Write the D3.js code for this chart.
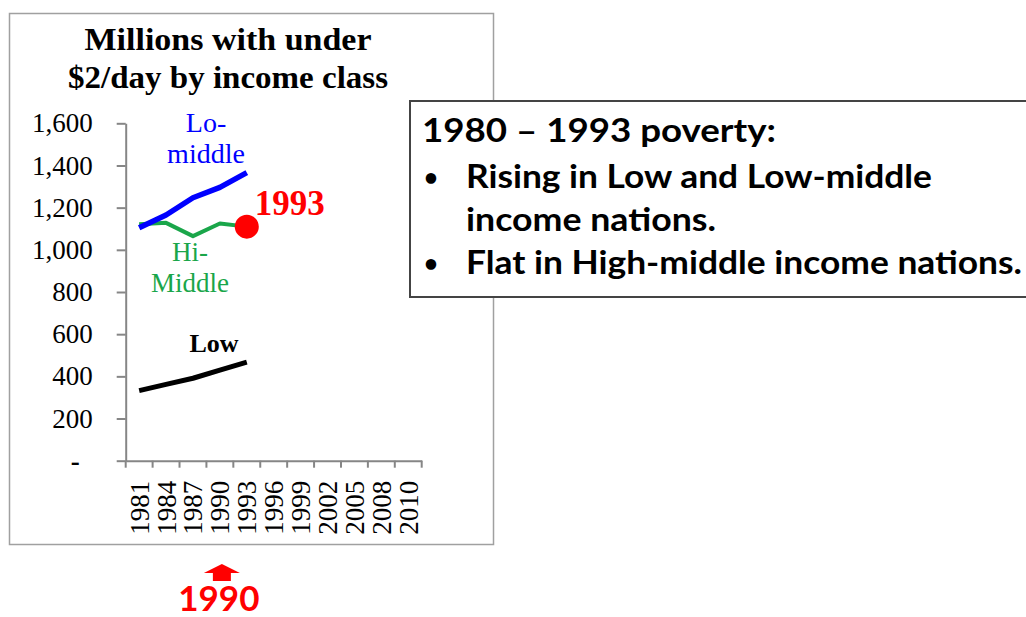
<!DOCTYPE html>
<html>
<head>
<meta charset="utf-8">
<script src="https://cdn.jsdelivr.net/npm/d3@7"></script>
<style>
  body { margin: 0; background: #fff; }
  svg { display: block; }
</style>
</head>
<body>
<div id="chart"></div>
<script>
const width = 1026;
const height = 617;

// data
const years = ["1981", "1984", "1987", "1990", "1993", "1996", "1999", "2002", "2005", "2008", "2010"];
const loMiddle = [1105, 1165, 1247, 1296, 1366];
const hiMiddle = [1121, 1128, 1065, 1125, 1110];
const low = [332, 362, 391, 430, 467];
const yTicks = [0, 200, 400, 600, 800, 1000, 1200, 1400, 1600];
const titleLines = ["Millions with under", "$2/day by income class"];
const noteHead = "1980 \u2013 1993 poverty:";
const noteBullets = [
  ["Rising in Low and Low-middle", "income nations."],
  ["Flat in High-middle income nations."]
];
const markYear = "1993";
const arrowYear = "1990";

const serif = "'Liberation Serif', 'Times New Roman', serif";
const sans = "Lato, 'Open Sans', sans-serif";

const svg = d3
  .select("#chart")
  .append("svg")
  .attr("width", width)
  .attr("height", height);

svg.append("rect").attr("width", width).attr("height", height).attr("fill", "#fff");

// chart frame
svg
  .append("rect")
  .attr("x", 9.5)
  .attr("y", 13.5)
  .attr("width", 484)
  .attr("height", 531)
  .attr("fill", "#fff")
  .attr("stroke", "#a0a0a0")
  .attr("stroke-width", 1.5);

// title
svg
  .append("g")
  .selectAll("text")
  .data(titleLines)
  .enter()
  .append("text")
  .attr("x", 228)
  .attr("y", (d, i) => 50 + i * 38)
  .attr("text-anchor", "middle")
  .attr("font-family", serif)
  .attr("font-weight", "bold")
  .attr("font-size", 32)
  .attr("textLength", (d, i) => (i === 0 ? 287 : 320))
  .attr("lengthAdjust", "spacingAndGlyphs")
  .text((d) => d);

//scales
const xScale = d3.scaleBand().domain(years).range([125.7, 421.7]);
const yScale = d3.scaleLinear().domain([0, 1600]).range([460.7, 123.3]);
const cx = (yr) => xScale(yr) + xScale.bandwidth() / 2;

const axisColor = "#868686";

// y axis
const yAxis = d3
  .axisLeft(yScale)
  .tickValues(yTicks)
  .tickSize(9)
  .tickSizeOuter(0)
  .tickPadding(24)
  .tickFormat((d) => (d === 0 ? "-" : d3.format(",")(d)));

const gy = svg
  .append("g")
  .attr("transform", "translate(125.7,0)")
  .call(yAxis);
gy.select(".domain").attr("stroke", axisColor).attr("stroke-width", 2);
gy.selectAll(".tick line").attr("stroke", axisColor).attr("stroke-width", 2);
gy.selectAll(".tick text")
  .attr("font-family", serif)
  .attr("font-size", 27)
  .attr("fill", "#000");
gy.selectAll(".tick")
  .filter((d) => d === 0)
  .select("text")
  .attr("x", -46)
  .attr("font-weight", "bold");

// x axis: labels centred in each band, ticks on band edges
const xAxis = d3.axisBottom(xScale).tickSize(0).tickSizeOuter(0);
const gx = svg
  .append("g")
  .attr("transform", "translate(0,460.7)")
  .call(xAxis);
gx.select(".domain").attr("stroke", axisColor).attr("stroke-width", 2);
gx.selectAll(".tick text")
  .attr("font-family", serif)
  .attr("font-size", 27)
  .attr("fill", "#000")
  .attr("text-anchor", "end")
  .attr("transform", "rotate(-90)")
  .attr("x", -20)
  .attr("y", 0)
  .attr("dy", "0.35em");

const edges = years.map((d) => xScale(d)).concat([xScale.range()[1]]);
gx.selectAll(".edge")
  .data(edges)
  .enter()
  .append("line")
  .attr("class", "edge")
  .attr("x1", (d) => d)
  .attr("x2", (d) => d)
  .attr("y1", 0)
  .attr("y2", 7)
  .attr("stroke", axisColor)
  .attr("stroke-width", 2);

// lines
const line = d3
  .line()
  .x((d, i) => cx(years[i]))
  .y((d) => yScale(d));

const series = [
  { values: hiMiddle, color: "#1aa64a", w: 4 },
  { values: loMiddle, color: "#0000ff", w: 5.5 },
  { values: low, color: "#000000", w: 5 }
];

svg
  .append("g")
  .selectAll("path")
  .data(series)
  .enter()
  .append("path")
  .attr("d", (d) => line(d.values))
  .attr("fill", "none")
  .attr("stroke", (d) => d.color)
  .attr("stroke-width", (d) => d.w)
  .attr("stroke-linejoin", "round");

// series labels
const seriesLabels = [
  { lines: ["Lo-", "middle"], x: 206, y: 132, color: "#0000ff", bold: false, size: 28 },
  { lines: ["Hi-", "Middle"], x: 190, y: 261, color: "#1aa64a", bold: false, size: 27 },
  { lines: ["Low"], x: 214, y: 352, color: "#000000", bold: true, size: 26 }
];
seriesLabels.forEach((s) => {
  svg
    .append("g")
    .selectAll("text")
    .data(s.lines)
    .enter()
    .append("text")
    .attr("x", s.x)
    .attr("y", (d, i) => s.y + i * 31)
    .attr("text-anchor", "middle")
    .attr("font-family", serif)
    .attr("font-weight", s.bold ? "bold" : "normal")
    .attr("font-size", s.size)
    .attr("fill", s.color)
    .text((d) => d);
});

// 1993 marker
const mi = years.indexOf(markYear);
svg
  .append("circle")
  .attr("cx", cx(markYear))
  .attr("cy", yScale(hiMiddle[mi]))
  .attr("r", 12)
  .attr("fill", "#ff0000");
svg
  .append("text")
  .attr("x", cx(markYear) + 8)
  .attr("y", 215)
  .attr("font-family", serif)
  .attr("font-weight", "bold")
  .attr("font-size", 35)
  .attr("fill", "#ff0000")
  .text(markYear);

// note box
svg
  .append("rect")
  .attr("x", 410)
  .attr("y", 101)
  .attr("width", 640)
  .attr("height", 196)
  .attr("fill", "#fff")
  .attr("stroke", "#444")
  .attr("stroke-width", 2);

const note = svg.append("g").attr("font-family", sans).attr("font-weight", "bold").attr("font-size", 32);
note.append("text").attr("x", 422).attr("y", 142).attr("textLength", 354).attr("lengthAdjust", "spacingAndGlyphs").text(noteHead);

const bulletRows = [];
noteBullets.forEach((b) => b.forEach((t, j) => bulletRows.push({ t: t, first: j === 0 })));
const rowW = [466, 250, 556];
bulletRows.forEach((r, i) => {
  const yy = 188 + i * 43;
  if (r.first) {
    note.append("text").attr("x", 424).attr("y", yy - 2).attr("font-size", 24).text("\u2022");
  }
  note
    .append("text")
    .attr("x", 466)
    .attr("y", yy)
    .attr("textLength", rowW[i])
    .attr("lengthAdjust", "spacingAndGlyphs")
    .text(r.t);
});

// arrow under 1990
const ax = cx(arrowYear) + 2;
svg
  .append("path")
  .attr(
    "d",
    `M${ax},564 L${ax + 18},573 L${ax + 9},573 L${ax + 9},581 L${ax - 9},581 L${ax - 9},573 L${ax - 18},573 Z`
  )
  .attr("fill", "#ff0000");
svg
  .append("text")
  .attr("x", cx(arrowYear) - 1)
  .attr("y", 611)
  .attr("text-anchor", "middle")
  .attr("font-family", sans)
  .attr("font-weight", "bold")
  .attr("font-size", 35)
  .attr("fill", "#ff0000")
  .text(arrowYear);
</script>
</body>
</html>
